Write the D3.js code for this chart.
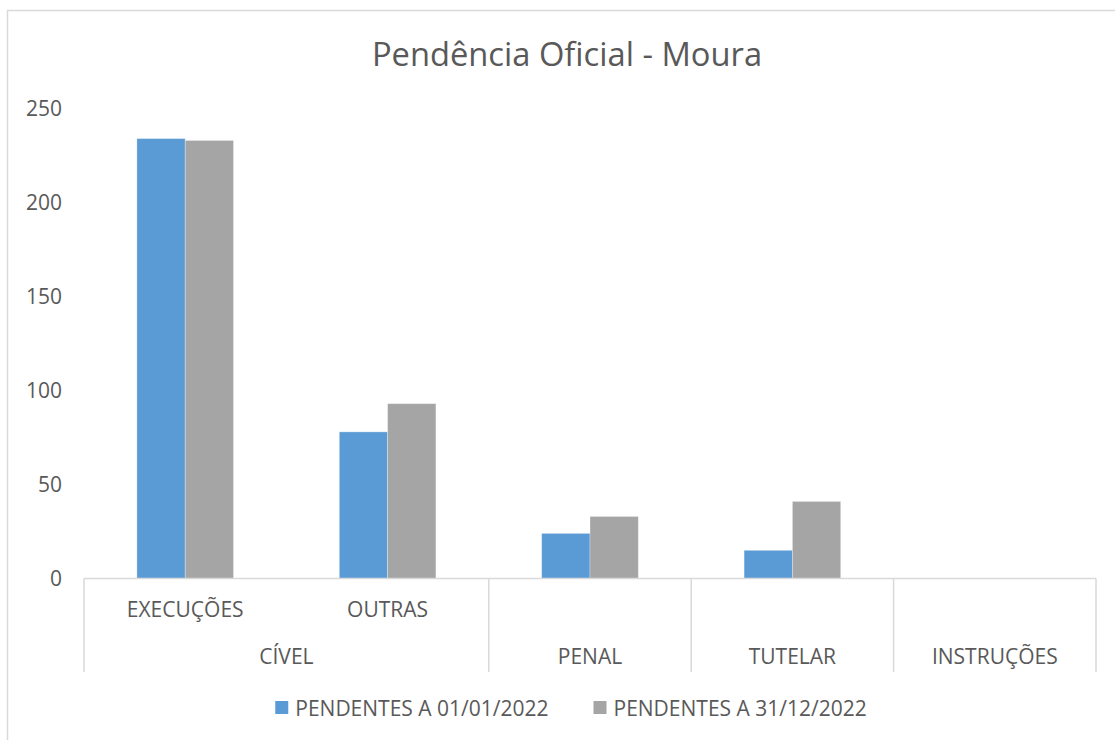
<!DOCTYPE html>
<html>
<head>
<meta charset="utf-8">
<script src="https://cdn.jsdelivr.net/npm/d3@7"></script>
<style>
  html, body { margin: 0; padding: 0; background: #fff; }
  svg { display: block; font-family: "Open Sans", sans-serif; }
</style>
</head>
<body>
<svg id="chart" width="1115" height="740"></svg>
<script>
// ---- data ----
const title = "Pendência Oficial - Moura";
const subCategories = ["EXECUÇÕES", "OUTRAS", "", "", ""];
const groupCategories = ["CÍVEL", "CÍVEL", "PENAL", "TUTELAR", "INSTRUÇÕES"];
const seriesNames = ["PENDENTES A 01/01/2022", "PENDENTES A 31/12/2022"];
const series1 = [234, 78, 24, 15, 0];
const series2 = [233, 93, 33, 41, 0];
const yTicks = [0, 50, 100, 150, 200, 250];
const colors = ["#5B9BD5", "#A5A5A5"];

// ---- layout ----
const W = 1115, H = 740;
const plot = { left: 84, right: 1096, top: 108.5, bottom: 578.5 };
const textColor = "#595959";
const lineColor = "#D9D9D9";
const fs = 21;

const svg = d3.select("#chart");

// chart border (extends beyond right/bottom edges)
svg.append("rect")
  .attr("x", 7.5).attr("y", 10.5)
  .attr("width", W + 20).attr("height", H + 20)
  .attr("fill", "none").attr("stroke", lineColor).attr("stroke-width", 1.5);

// title
svg.append("text")
  .attr("x", 567).attr("y", 66)
  .attr("text-anchor", "middle")
  .attr("fill", textColor)
  .attr("font-size", 32.7)
  .text(title);

const idx = d3.range(subCategories.length);
const x0 = d3.scaleBand().domain(idx).range([plot.left, plot.right]).paddingInner(0).paddingOuter(0);
const x1 = d3.scaleBand().domain([0, 1]).range([0, x0.bandwidth()]).paddingInner(0).paddingOuter(2.19 / 2);
const y = d3.scaleLinear().domain([0, 250]).range([plot.bottom, plot.top]);

// y axis labels (no axis line, no gridlines)
const yAxis = d3.axisLeft(y).tickValues(yTicks).tickSize(0).tickPadding(0);
const gy = svg.append("g").attr("transform", `translate(62,0)`).call(yAxis);
gy.select(".domain").remove();
gy.selectAll("text")
  .attr("fill", textColor)
  .attr("font-size", fs)
  .attr("font-family", "Open Sans, sans-serif")
  .attr("dy", "0.35em");

// bars
const allSeries = [series1, series2];
allSeries.forEach((vals, s) => {
  svg.append("g").selectAll("rect")
    .data(vals)
    .join("rect")
    .attr("x", (d, i) => x0(i) + x1(s))
    .attr("y", d => y(d))
    .attr("width", x1.bandwidth())
    .attr("height", d => y(0) - y(d))
    .attr("fill", colors[s])
    .attr("stroke", "#ffffff")
    .attr("stroke-opacity", 0.4)
    .attr("stroke-width", 0.75);
});

// category axis: baseline
svg.append("line")
  .attr("x1", plot.left).attr("x2", plot.right)
  .attr("y1", plot.bottom).attr("y2", plot.bottom)
  .attr("stroke", lineColor).attr("stroke-width", 1.5);

// group spans
const groups = [];
groupCategories.forEach((g, i) => {
  if (groups.length && groups[groups.length - 1].name === g) groups[groups.length - 1].end = i;
  else groups.push({ name: g, start: i, end: i });
});
const axisBottom = 672;
const bounds = [plot.left].concat(groups.map(g => x0(g.end) + x0.bandwidth()));
svg.append("g").selectAll("line")
  .data(bounds)
  .join("line")
  .attr("x1", d => d).attr("x2", d => d)
  .attr("y1", plot.bottom).attr("y2", axisBottom)
  .attr("stroke", lineColor).attr("stroke-width", 1.5);

// sub-category labels
svg.append("g").selectAll("text")
  .data(idx.filter(i => subCategories[i] !== ""))
  .join("text")
  .attr("x", i => x0(i) + x0.bandwidth() / 2)
  .attr("y", 616.5)
  .attr("text-anchor", "middle")
  .attr("fill", textColor)
  .attr("font-size", fs)
  .text(i => subCategories[i]);

// group labels
svg.append("g").selectAll("text")
  .data(groups)
  .join("text")
  .attr("x", g => (x0(g.start) + x0(g.end) + x0.bandwidth()) / 2)
  .attr("y", 664)
  .attr("text-anchor", "middle")
  .attr("fill", textColor)
  .attr("font-size", fs)
  .text(g => g.name);

// legend
const legend = svg.append("g");
const sq = 13, gapSqText = 7, gapItems = 45;
const items = seriesNames.map((name, s) => {
  const g = legend.append("g");
  g.append("rect").attr("width", sq).attr("height", sq).attr("y", 701).attr("fill", colors[s]);
  const t = g.append("text").attr("x", sq + gapSqText).attr("y", 716)
    .attr("fill", textColor).attr("font-size", fs).text(name);
  return { g, w: sq + gapSqText + t.node().getComputedTextLength() };
});
const totalW = d3.sum(items, d => d.w) + gapItems * (items.length - 1);
let cx = 571 - totalW / 2;
items.forEach(it => { it.g.attr("transform", `translate(${cx},0)`); cx += it.w + gapItems; });
</script>
</body>
</html>
